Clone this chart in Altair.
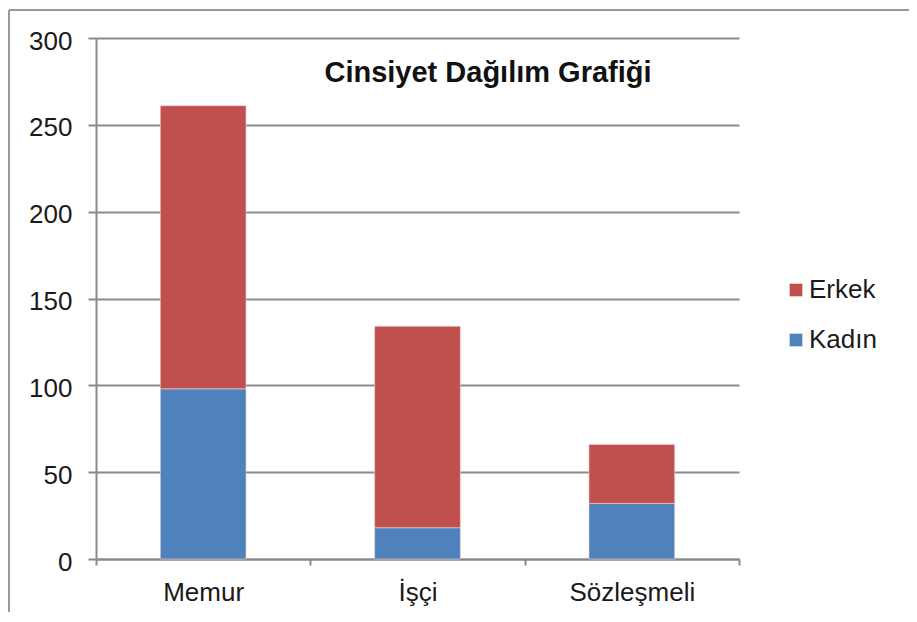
import altair as alt
import pandas as pd

categories = ["Memur", "İşçi", "Sözleşmeli"]
series = ["Erkek", "Kadın"]
kadin = [98, 18, 32]
erkek = [163, 116, 34]
y_ticks = [0, 50, 100, 150, 200, 250, 300]
title_text = "Cinsiyet Dağılım Grafiği"

rows = []
for c, k, e in zip(categories, kadin, erkek):
    rows.append({"kategori": c, "cinsiyet": "Kadın", "deger": k, "ord": 0})
    rows.append({"kategori": c, "cinsiyet": "Erkek", "deger": e, "ord": 1})
df = pd.DataFrame(rows)

FONT = "Liberation Sans"
GRAY = "#8a8a8a"

bars = alt.Chart(df).mark_bar(
    width=alt.RelativeBandSize(0.4), stroke="#f4d6d6", strokeWidth=0.6
).encode(
    x=alt.X("kategori:N", sort=categories, title=None,
            scale=alt.Scale(paddingInner=0, paddingOuter=0),
            axis=alt.Axis(tickBand="extent", labelAngle=0, labelFontSize=26,
                          labelPadding=14, tickSize=6, labelColor="#1a1a1a",
                          labelFont=FONT)),
    y=alt.Y("deger:Q", stack="zero", title=None,
            scale=alt.Scale(domain=[0, 300], nice=False),
            axis=alt.Axis(values=y_ticks, labelFontSize=26, tickSize=8,
                          labelPadding=16, grid=True, labelColor="#1a1a1a",
                          labelFont=FONT, labelOffset=3)),
    color=alt.Color("cinsiyet:N",
                    scale=alt.Scale(domain=series, range=["#C0504D", "#4F81BD"]),
                    legend=alt.Legend(title=None, orient="none", legendX=687, legendY=239,
                                      symbolType="square", symbolSize=160,
                                      symbolStrokeWidth=0, labelFontSize=26,
                                      labelFont=FONT, labelColor="#1a1a1a",
                                      rowPadding=24, labelOffset=0, padding=0)),
    order=alt.Order("ord:Q"),
)

one = pd.DataFrame({"t": [title_text]})
title = alt.Chart(one).mark_text(
    font=FONT, fontSize=29, fontWeight="bold", color="#111111", baseline="alphabetic"
).encode(text="t:N", x=alt.value(392), y=alt.value(44))

border_left = alt.Chart(one).mark_rule(color="#9a9a9a", strokeWidth=2).encode(
    x=alt.value(-87), y=alt.value(-28), y2=alt.value(620))
border_top = alt.Chart(one).mark_rule(color="#9a9a9a", strokeWidth=2).encode(
    x=alt.value(-87), x2=alt.value(900), y=alt.value(-28))

chart = alt.layer(bars, title, border_left, border_top).properties(
    width=643, height=521,
    autosize=alt.AutoSizeParams(type="none"),
    padding={"left": 88, "top": 30, "right": 170, "bottom": 53},
).configure_view(stroke=None).configure_axis(
    domainColor=GRAY, domainWidth=2, tickColor=GRAY, tickWidth=2,
    gridColor=GRAY, gridWidth=2, gridOpacity=1,
)

chart.save("out.html", embed_options={"renderer": "svg", "actions": False})
